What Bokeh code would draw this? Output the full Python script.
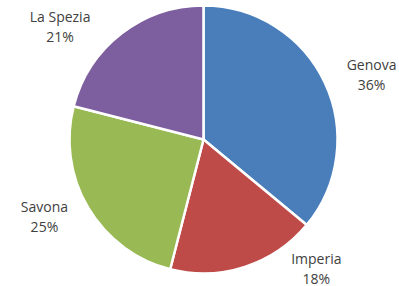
import math
from bokeh.plotting import figure
from bokeh.models import Range1d, ColumnDataSource
from bokeh.core.properties import value
from bokeh.embed import file_html
from bokeh.resources import INLINE

# Data
provinces = ["Genova", "Imperia", "Savona", "La Spezia"]
shares = [36, 18, 25, 21]
colors = ["#4A7EBB", "#BE4B48", "#98B954", "#7D5FA0"]
# label anchor: angle (deg) and distance from pie centre (px)
label_angle = [21, -49, -154, 142]
label_dist = [180, 172, 177, 182]

radius = 134
total = sum(shares)
starts, ends = [], []
cum = 0
for s in shares:
    starts.append(math.pi / 2 - cum / total * 2 * math.pi)
    cum += s
    ends.append(math.pi / 2 - cum / total * 2 * math.pi)

src = ColumnDataSource(dict(x=[0] * 4, y=[0] * 4, start=starts, end=ends, color=colors))

p = figure(width=399, height=286, output_backend="svg", toolbar_location=None,
           x_range=Range1d(-203, 196), y_range=Range1d(-147, 139),
           min_border=0, margin=(0, 0, 0, 0))
p.axis.visible = False
p.grid.visible = False
p.outline_line_color = None
p.background_fill_color = "white"
p.border_fill_color = "white"

p.wedge(x="x", y="y", radius=radius, start_angle="start", end_angle="end",
        direction="clock", fill_color="color", line_color="white", line_width=2.5,
        source=src)

lx, ly, names, pcts = [], [], [], []
for a, d, n, s in zip(label_angle, label_dist, provinces, shares):
    r = math.radians(a)
    lx.append(d * math.cos(r))
    ly.append(d * math.sin(r))
    names.append(n)
    pcts.append(f"{round(s / total * 100)}%")

lsrc = ColumnDataSource(dict(x=lx, y=ly, name=names, pct=pcts))
common = dict(text_align="center", text_font=value("Open Sans"), text_font_size="14px",
              text_color="#404040", source=lsrc)
p.text(x="x", y="y", text="name", text_baseline="bottom", y_offset=-1, **common)
p.text(x="x", y="y", text="pct", text_baseline="top", y_offset=0, **common)

open("out.html", "w").write(file_html(p, INLINE))
